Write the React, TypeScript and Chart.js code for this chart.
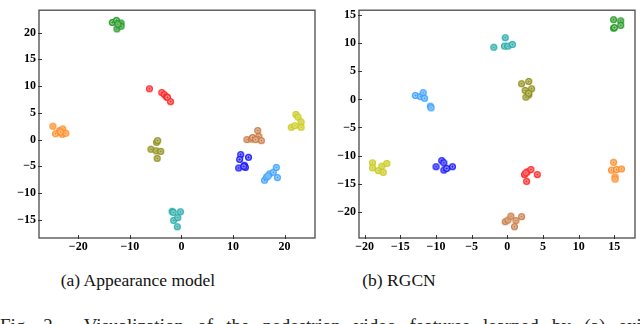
import React, { useEffect, useRef } from "react";
import { Chart, registerables } from "chart.js";
Chart.register(...registerables);

// ---------- data ----------
const clusterColors = ["#1e961e", "#ff2020", "#ff8a24", "#8c8c14", "#20a8a8", "#c87840", "#1414ff", "#3aa0ff", "#c8c814"];
const clusterNames = ["green", "red", "orange", "olive", "teal", "brown", "blue", "lightblue", "yellow"];

// (a) Appearance model
const aGreen = [[-13.4, 21.9], [-12.6, 22.3], [-12.5, 20.7], [-11.7, 21.8], [-11.7, 21.2], [-12.3, 21.6]];
const aRed = [[-6.2, 9.5], [-3.8, 8.8], [-3.3, 8.4], [-2.9, 8.0], [-2.7, 7.9], [-2.1, 7.1]];
const aOrange = [[-24.9, 2.5], [-24.4, 1.1], [-23.6, 1.7], [-23.0, 2.0], [-23.1, 1.0], [-22.4, 1.2], [-23.4, 1.4]];
const aOlive = [[-4.8, -0.5], [-4.6, -0.2], [-5.9, -1.8], [-4.9, -2.1], [-4.0, -2.2], [-4.7, -3.5]];
const aTeal = [[-1.8, -13.4], [-1.6, -13.6], [-0.2, -13.5], [-1.5, -15.1], [-0.7, -14.6], [-0.8, -16.3]];
const aBrown = [[12.7, 0.0], [13.6, 0.1], [13.8, 0.4], [14.8, 1.7], [15.0, 0.6], [15.5, -0.2], [14.4, 0.0]];
const aBlue = [[11.5, -2.8], [11.3, -3.7], [13.0, -3.3], [11.1, -5.3], [12.2, -4.8], [12.4, -5.2], [12.1, -5.0]];
const aLightBlue = [[16.1, -7.6], [16.5, -7.0], [17.1, -6.4], [17.8, -6.1], [18.4, -5.2], [18.6, -7.1], [16.8, -6.8]];
const aYellow = [[21.3, 2.3], [22.0, 2.6], [22.2, 4.7], [22.6, 4.2], [23.2, 3.3], [23.2, 2.3]];

// (b) RGCN
const bGreen = [[14.9, 14.2], [14.9, 12.7], [15.9, 14.0], [15.9, 13.2], [15.0, 12.8]];
const bRed = [[2.4, -13.4], [2.8, -12.9], [3.3, -12.5], [2.7, -14.6], [4.2, -13.4], [2.6, -13.1]];
const bOrange = [[14.9, -11.2], [14.6, -12.6], [15.3, -12.5], [16.0, -12.4], [15.1, -13.8], [15.1, -14.2]];
const bOlive = [[2.0, 2.8], [3.0, 3.2], [2.5, 1.6], [3.4, 1.9], [3.0, 0.8], [2.6, 0.4], [3.0, 1.1]];
const bTeal = [[-1.9, 9.3], [-0.3, 11.0], [-0.4, 9.5], [0.1, 9.5], [0.7, 9.8]];
const bBrown = [[-0.3, -21.8], [0.1, -21.5], [0.5, -20.8], [1.2, -21.6], [2.0, -20.9], [1.0, -22.7]];
const bBlue = [[-10.0, -12.0], [-9.2, -10.9], [-8.9, -11.3], [-8.9, -12.6], [-8.5, -12.3], [-7.7, -12.0]];
const bLightBlue = [[-12.9, 0.7], [-12.2, 0.5], [-11.8, 1.2], [-11.6, 0.2], [-10.8, -1.2], [-10.7, -1.5]];
const bYellow = [[-18.9, -11.3], [-18.9, -12.2], [-18.1, -12.7], [-17.6, -11.9], [-17.4, -13.0], [-16.9, -11.4]];

const aClusters = [aGreen, aRed, aOrange, aOlive, aTeal, aBrown, aBlue, aLightBlue, aYellow];
const bClusters = [bGreen, bRed, bOrange, bOlive, bTeal, bBrown, bBlue, bLightBlue, bYellow];

const aTicksX = [-20, -10, 0, 10, 20];
const aTicksY = [-15, -10, -5, 0, 5, 10, 15, 20];
const bTicksX = [-20, -15, -10, -5, 0, 5, 10, 15];
const bTicksY = [-20, -15, -10, -5, 0, 5, 10, 15];

const aLimits = [-27.6, 25.9, -18.4, 24.2];
const bLimits = [-20.8, 17.9, -24.7, 15.9];

const captionA = "(a) Appearance model";
const captionB = "(b) RGCN";
const figCaption = "Fig. 2.  Visualization of the pedestrian video features learned by (a) existing";

// ---------- helpers ----------
function makeMarker(color: string): HTMLCanvasElement {
  const c = document.createElement("canvas");
  c.width = 9;
  c.height = 9;
  const ctx = c.getContext("2d")!;
  ctx.fillStyle = color;
  ctx.beginPath();
  ctx.arc(4.5, 4.5, 3.5, 0, Math.PI * 2);
  ctx.fill();
  ctx.strokeStyle = "rgba(255,255,255,0.85)";
  ctx.lineWidth = 0.9;
  ctx.beginPath();
  ctx.arc(4.5, 4.5, 1.7, 0, Math.PI * 2);
  ctx.stroke();
  return c;
}

const fmt = (v: number) => (v < 0 ? "\u2212" + Math.abs(v) : String(v));

const framePlugin = {
  id: "frame",
  afterDraw(chart: any) {
    const { ctx, chartArea: a, scales } = chart;
    ctx.save();
    ctx.strokeStyle = "#4a4a4a";
    ctx.lineWidth = 1.3;
    ctx.strokeRect(a.left, a.top, a.right - a.left, a.bottom - a.top);
    ctx.lineWidth = 1;
    ctx.strokeStyle = "#333";
    scales.x.ticks.forEach((t: any) => {
      const px = Math.round(scales.x.getPixelForValue(t.value)) + 0.5;
      ctx.beginPath();
      ctx.moveTo(px, a.bottom + 1);
      ctx.lineTo(px, a.bottom - 3);
      ctx.stroke();
    });
    scales.y.ticks.forEach((t: any) => {
      const py = Math.round(scales.y.getPixelForValue(t.value)) + 0.5;
      ctx.beginPath();
      ctx.moveTo(a.left - 1, py);
      ctx.lineTo(a.left + 3, py);
      ctx.stroke();
    });
    ctx.restore();
  },
};

function Panel({ clusters, ticksX, ticksY, limits }: { clusters: number[][][]; ticksX: number[]; ticksY: number[]; limits: number[] }) {
  const ref = useRef<HTMLCanvasElement>(null);
  useEffect(() => {
    const tickFont = { family: "'Liberation Serif', 'Times New Roman', serif", size: 12, weight: "bold" as const };
    const chart = new Chart(ref.current!, {
      type: "scatter",
      data: {
        datasets: clusters.map((pts, i) => ({
          label: clusterNames[i],
          data: pts.map(([x, y]) => ({ x, y })),
          pointStyle: makeMarker(clusterColors[i]) as any,
          backgroundColor: clusterColors[i],
          borderColor: clusterColors[i],
        })),
      },
      options: {
        animation: false,
        responsive: false,
        maintainAspectRatio: false,
        layout: { padding: { top: 2, right: 1, left: 0, bottom: 0 } },
        plugins: { legend: { display: false }, tooltip: { enabled: false } },
        scales: {
          x: {
            type: "linear",
            min: limits[0],
            max: limits[1],
            grid: { display: false, drawTicks: false },
            border: { display: false },
            afterBuildTicks: (s: any) => {
              s.ticks = ticksX.map((v) => ({ value: v }));
            },
            afterFit: (s: any) => {
              s.height = 16;
            },
            ticks: { color: "#000", font: tickFont, padding: 2, maxRotation: 0, callback: (v: any) => fmt(Number(v)) },
          },
          y: {
            type: "linear",
            min: limits[2],
            max: limits[3],
            grid: { display: false, drawTicks: false },
            border: { display: false },
            afterBuildTicks: (s: any) => {
              s.ticks = ticksY.map((v) => ({ value: v }));
            },
            afterFit: (s: any) => {
              s.width = 39;
            },
            ticks: { color: "#000", font: tickFont, padding: 3, callback: (v: any) => fmt(Number(v)) },
          },
        },
      },
      plugins: [framePlugin],
    });
    return () => chart.destroy();
  }, []);
  return <canvas ref={ref} width={320} height={254} style={{ width: 320, height: 254, display: "block" }} />;
}

export default function App() {
  const serif = "'Liberation Serif', 'Times New Roman', serif";
  return (
    <div style={{ position: "fixed", left: 0, top: 0, width: 640, height: 324, overflow: "hidden", background: "#fff" }}>
      <div style={{ position: "absolute", left: 0, top: 0 }}>
        <Panel clusters={aClusters} ticksX={aTicksX} ticksY={aTicksY} limits={aLimits} />
      </div>
      <div style={{ position: "absolute", left: 320, top: 0 }}>
        <Panel clusters={bClusters} ticksX={bTicksX} ticksY={bTicksY} limits={bLimits} />
      </div>
      <div style={{ position: "absolute", left: 38, width: 200, top: 270, textAlign: "center", font: `17.5px/20px ${serif}`, color: "#111" }}>
        {captionA}
      </div>
      <div style={{ position: "absolute", left: 299, width: 200, top: 270, textAlign: "center", font: `17.5px/20px ${serif}`, color: "#111" }}>
        {captionB}
      </div>
      <div style={{ position: "absolute", left: 0, top: 316, whiteSpace: "pre", font: `19px/19px ${serif}`, wordSpacing: 8.5, color: "#222" }}>
        {figCaption}
      </div>
    </div>
  );
}
